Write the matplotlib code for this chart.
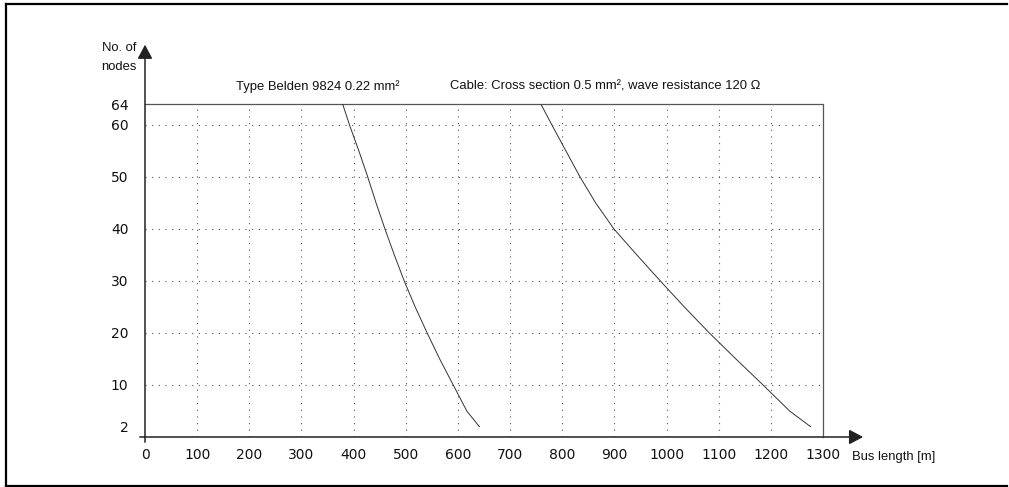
import matplotlib
matplotlib.use("Agg")
import matplotlib.pyplot as plt
from matplotlib.lines import Line2D

# values
nodes = [64, 60, 55, 50, 45, 40, 35, 30, 25, 20, 15, 10, 5, 2]
belden_length = [379, 392, 410, 427, 443, 460, 478, 497, 518, 541, 565, 591, 617, 641]
cable_length = [759, 780, 807, 834, 864, 899, 943, 988, 1034, 1082, 1133, 1185, 1236, 1276]

x_ticks = [0, 100, 200, 300, 400, 500, 600, 700, 800, 900, 1000, 1100, 1200, 1300]
y_ticks = [2, 10, 20, 30, 40, 50, 60, 64]
x_grid = [100, 200, 300, 400, 500, 600, 700, 800, 900, 1000, 1100, 1200]
y_grid = [10, 20, 30, 40, 50, 60]

fig = plt.figure(figsize=(10.09, 4.87), dpi=100)
ax = fig.add_axes([145 / 1009, 50 / 487, 678 / 1009, 333 / 487])
ax.set_xlim(0, 1300)
ax.set_ylim(0, 64)

for s in ax.spines.values():
    s.set_visible(False)

# dotted grid
dots = (0, (1, 5))
ax.vlines(x_grid, 0, 64, colors="#555555", linewidth=0.8, linestyles=dots)
ax.hlines(y_grid, 0, 1300, colors="#555555", linewidth=0.8, linestyles=dots)

# box top and right
ax.plot([0, 1300, 1300], [64, 64, 0], color="#555555", lw=0.9, clip_on=False)

# axes with arrows
ax.annotate("", xy=(0, 75.4), xytext=(0, -1), annotation_clip=False,
            arrowprops=dict(arrowstyle="-|>,head_length=0.85,head_width=0.45",
                            lw=1.1, color="#222222", shrinkA=0, shrinkB=0))
ax.annotate("", xy=(1377, 0), xytext=(-10, 0), annotation_clip=False,
            arrowprops=dict(arrowstyle="-|>,head_length=0.85,head_width=0.45",
                            lw=1.1, color="#222222", shrinkA=0, shrinkB=0))

# curves
ax.plot(belden_length, nodes, color="#333333", lw=0.7)
ax.plot(cable_length, nodes, color="#333333", lw=0.7)

ax.set_xticks(x_ticks)
ax.set_yticks(y_ticks)
ax.tick_params(axis="x", length=0, pad=8, labelsize=10, labelcolor="#111111")
ax.tick_params(axis="y", length=0, pad=12, labelsize=10, labelcolor="#111111")

txt = dict(family="Liberation Sans", fontsize=9.4, color="#111111")
ax.text(332, 67.4, "Type Belden 9824 0.22 mm\u00b2", ha="center", va="center", **txt)
ax.text(585, 67.4, "Cable: Cross section 0.5 mm\u00b2, wave resistance 120 \u03a9",
        ha="left", va="center", **txt)
ax.text(-16, 73, "No. of\nnodes", ha="right", va="center", linespacing=1.75, **txt)
ax.text(1356, -3.85, "Bus length [m]", ha="left", va="center", **txt)

# frame around the figure
for xs, ys in [([6, 6], [4, 486]), ([6, 1007], [4, 4]), ([6, 1007], [486, 486])]:
    fig.add_artist(Line2D([x / 1009 for x in xs], [1 - y / 487 for y in ys],
                          color="black", lw=1.6))

fig.savefig("out.png", dpi=100)
